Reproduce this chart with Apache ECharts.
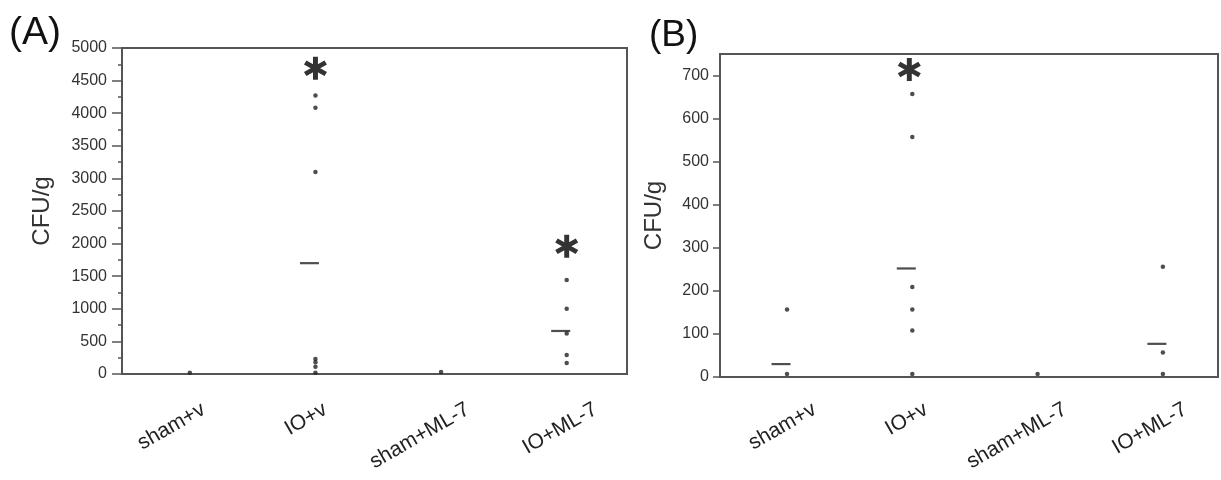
<!DOCTYPE html>
<html>
<head>
<meta charset="utf-8">
<script src="https://cdn.jsdelivr.net/npm/echarts@6/dist/echarts.min.js"></script>
<style>
html,body{margin:0;padding:0;background:#fff;}
#chart{width:1221px;height:480px;}
</style>
</head>
<body>
<div id="chart"></div>
<script>
// ---------- data ----------
var categories = ['sham+v', 'IO+v', 'sham+ML-7', 'IO+ML-7'];

// Panel (A): CFU/g, individual animals
var aShamV   = [20];
var aIOV     = [4270, 4085, 3100, 230, 180, 110, 20];
var aShamML7 = [30];
var aIOML7   = [1440, 1000, 620, 290, 170];
var aMeans   = [null, 1700, null, 660];
var aStars   = [null, 4690, null, 1960];
var aTicks   = [0, 500, 1000, 1500, 2000, 2500, 3000, 3500, 4000, 4500, 5000];

// Panel (B): CFU/g, individual animals
var bShamV   = [157, 7];
var bIOV     = [657, 557, 209, 157, 108, 7];
var bShamML7 = [7];
var bIOML7   = [256, 57, 7];
var bMeans   = [30, 252, null, 77];
var bStars   = [null, 714, null, null];
var bTicks   = [0, 100, 200, 300, 400, 500, 600, 700];

// ---------- helpers ----------
function pts(groups) {
  var out = [];
  groups.forEach(function (g, i) { g.forEach(function (v) { out.push([i, v]); }); });
  return out;
}
function byCat(arr) {
  var out = [];
  arr.forEach(function (v, i) { if (v != null) out.push([i, v]); });
  return out;
}
// six-armed asterisk path
function asteriskPath() {
  var L = 11, w = 2.3, s = '';
  [0, 60, 120].forEach(function (deg) {
    var a = deg * Math.PI / 180;
    var dx = Math.sin(a), dy = -Math.cos(a);
    var nx = -dy, ny = dx;
    var c = [
      [ L * dx + w * nx,  L * dy + w * ny],
      [ L * dx - w * nx,  L * dy - w * ny],
      [-L * dx - w * nx, -L * dy - w * ny],
      [-L * dx + w * nx, -L * dy + w * ny]
    ];
    s += 'M' + c.map(function (p) { return (p[0] + 12).toFixed(2) + ' ' + (p[1] + 12).toFixed(2); }).join(' L') + ' Z ';
  });
  return 'path://' + s;
}
var STAR = asteriskPath();

// label anchor nudges (fraction of category spacing) for rotated category labels
var labelNudgeA = [0.11, 0.08, 0.215, 0.23];
var labelNudgeB = [0.22, 0.11, 0.22, 0.18];

var axisColor = '#555';
var textColor = '#333';
var tickFont = 'Liberation Sans, Arial, sans-serif';

function xAxisFor(gi, min, max, nudge, margin) {
  return {
    type: 'value', gridIndex: gi, min: min, max: max,
    axisLine: { show: true, onZero: false, lineStyle: { color: axisColor, width: 2 } },
    axisTick: { show: false },
    splitLine: { show: false },
    axisLabel: {
      customValues: nudge.map(function (d, i) { return i + d; }),
      formatter: function (v) { return categories[Math.round(v)] || ''; },
      rotate: 30, margin: margin, fontSize: 21, color: '#222',
      fontFamily: 'Liberation Sans, Arial, sans-serif'
    }
  };
}

function seriesFor(gi, groups, means, stars, starOffset) {
  return [
    {
      type: 'scatter', xAxisIndex: gi, yAxisIndex: gi,
      data: pts(groups), symbol: 'circle', symbolSize: 4.5,
      itemStyle: { color: '#222' }, silent: true, z: 3
    },
    {
      type: 'scatter', xAxisIndex: gi, yAxisIndex: gi,
      data: byCat(means), symbol: 'rect', symbolSize: [19, 2.2], symbolOffset: [-6, 0],
      itemStyle: { color: '#222' }, silent: true, z: 3
    },
    {
      type: 'scatter', xAxisIndex: gi, yAxisIndex: gi,
      data: byCat(stars), symbol: STAR, symbolSize: [23, 23], symbolOffset: [starOffset, 0],
      itemStyle: { color: '#000' }, silent: true, z: 4
    }
  ];
}

var chart = echarts.init(document.getElementById('chart'), null, { renderer: 'canvas' });
chart.setOption({
  backgroundColor: '#ffffff',
  animation: false,
  grid: [
    { left: 122, top: 48, width: 505, height: 326, show: true, borderColor: axisColor, borderWidth: 2, backgroundColor: 'transparent' },
    { left: 720, top: 54, width: 498, height: 323, show: true, borderColor: axisColor, borderWidth: 2, backgroundColor: 'transparent' }
  ],
  xAxis: [
    xAxisFor(0, -0.54, 3.48, labelNudgeA, 34),
    xAxisFor(1, -0.535, 3.44, labelNudgeB, 31)
  ],
  yAxis: [
    {
      type: 'value', gridIndex: 0, min: aTicks[0], max: aTicks[aTicks.length - 1], interval: aTicks[1] - aTicks[0],
      name: 'CFU/g', nameLocation: 'middle', nameGap: 68,
      nameTextStyle: { fontSize: 24, color: textColor, fontFamily: 'Liberation Sans, Arial, sans-serif' },
      axisLine: { show: true, onZero: false, lineStyle: { color: axisColor, width: 2 } },
      axisTick: { show: true, length: 10, lineStyle: { color: axisColor, width: 1.5 } },
      minorTick: { show: true, splitNumber: 2, length: 4, lineStyle: { color: axisColor, width: 1.5 } },
      splitLine: { show: false },
      axisLabel: { margin: 15, fontSize: 16, color: textColor, fontFamily: tickFont,
        formatter: function (v) { return String(v); } }
    },
    {
      type: 'value', gridIndex: 1, min: 0, max: 750,
      name: 'CFU/g', nameLocation: 'middle', nameGap: 54,
      nameTextStyle: { fontSize: 24, color: textColor, fontFamily: 'Liberation Sans, Arial, sans-serif' },
      axisLine: { show: true, onZero: false, lineStyle: { color: axisColor, width: 2 } },
      axisTick: { show: true, length: 7, customValues: bTicks, lineStyle: { color: axisColor, width: 1.5 } },
      splitLine: { show: false },
      axisLabel: { margin: 11, fontSize: 16, color: textColor, fontFamily: tickFont, customValues: bTicks,
        formatter: function (v) { return String(v); } }
    }
  ],
  graphic: [
    { type: 'text', left: 9, top: 14, style: { text: '(A)', fill: '#111', font: '39px Liberation Sans, Arial, sans-serif' } },
    { type: 'text', left: 649, top: 17, style: { text: '(B)', fill: '#111', font: '37px Liberation Sans, Arial, sans-serif' } }
  ],
  series: []
    .concat(seriesFor(0, [aShamV, aIOV, aShamML7, aIOML7], aMeans, aStars, 0))
    .concat(seriesFor(1, [bShamV, bIOV, bShamML7, bIOML7], bMeans, bStars, -3))
});
</script>
</body>
</html>
